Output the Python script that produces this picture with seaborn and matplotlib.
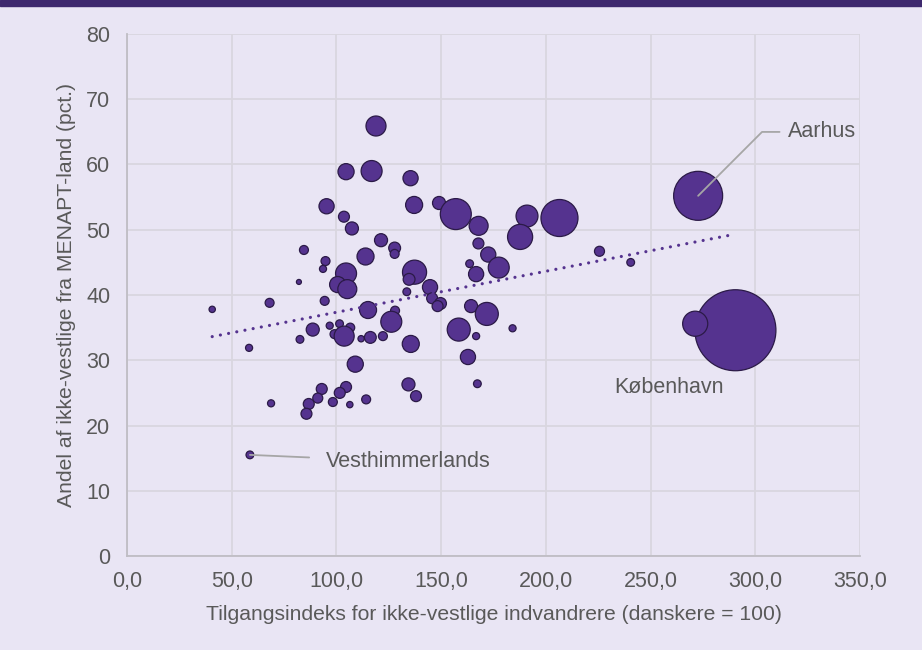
import numpy as np
import pandas as pd
import seaborn as sns
import matplotlib.pyplot as plt
from matplotlib.ticker import FuncFormatter, MultipleLocator

# Tilgangsindeks (x), andel fra MENAPT-land i pct. (y), boblestoerrelse (antal, 1000 pers.)
tilgang = [118.9, 104.6, 116.8, 135.4, 95.3, 103.6, 107.4, 137.1, 149.0, 157.0,
           167.9, 167.8, 172.5, 177.5, 191.0, 187.7, 206.5, 225.6, 240.5, 272.7,
           290.5, 271.3, 184.1, 84.5, 121.3, 127.8, 127.8, 94.8, 93.6, 113.9,
           104.6, 100.6, 105.2, 137.3, 134.7, 163.6, 166.7, 82.1, 144.7, 145.7,
           149.7, 148.3, 133.6, 40.7, 68.1, 94.4, 115.1, 128.0, 126.2, 164.3,
           171.8, 88.7, 96.8, 101.5, 106.6, 99.1, 103.7, 82.6, 111.8, 116.2,
           122.2, 158.4, 166.7, 135.5, 58.3, 109.0, 162.8, 68.8, 93.0, 91.1,
           86.8, 85.7, 98.3, 104.6, 101.6, 106.4, 114.2, 134.4, 138.0, 167.3,
           58.7]
andel = [65.9, 58.9, 59.0, 57.9, 53.6, 52.0, 50.2, 53.8, 54.1, 52.4,
         50.6, 47.9, 46.2, 44.2, 52.1, 48.9, 51.8, 46.7, 45.0, 55.2,
         34.6, 35.6, 34.9, 46.9, 48.4, 47.2, 46.3, 45.2, 44.0, 45.9,
         43.3, 41.6, 40.9, 43.5, 42.4, 44.8, 43.2, 42.0, 41.2, 39.5,
         38.7, 38.3, 40.5, 37.8, 38.8, 39.1, 37.7, 37.6, 35.9, 38.3,
         37.1, 34.7, 35.3, 35.6, 35.0, 34.0, 33.7, 33.2, 33.3, 33.5,
         33.7, 34.7, 33.7, 32.5, 31.9, 29.4, 30.5, 23.4, 25.6, 24.2,
         23.3, 21.8, 23.6, 25.9, 25.0, 23.2, 24.0, 26.3, 24.5, 26.4,
         15.5]
antal = [4.0, 2.6, 4.4, 2.3, 2.3, 1.2, 1.7, 2.9, 1.7, 9.6,
         3.6, 1.2, 2.3, 4.4, 4.8, 6.3, 13.7, 1.0, 0.6, 24.0,
         65.6, 6.3, 0.5, 0.8, 1.7, 1.4, 0.8, 0.8, 0.5, 2.9,
         4.4, 2.6, 3.6, 5.8, 1.4, 0.6, 2.3, 0.25, 2.3, 1.2,
         1.4, 1.2, 0.6, 0.4, 0.8, 0.8, 2.9, 0.8, 4.4, 1.7,
         5.3, 1.7, 0.5, 0.6, 0.8, 0.8, 4.0, 0.6, 0.4, 1.4,
         0.8, 5.3, 0.5, 2.9, 0.5, 2.6, 2.3, 0.5, 1.2, 1.0,
         1.2, 1.2, 0.8, 1.2, 1.2, 0.4, 0.8, 1.7, 1.2, 0.6,
         0.6]

kommune_navn = ["Aarhus", "København", "Vesthimmerlands"]
kommune_idx = [19, 20, 80]

df = pd.DataFrame({"tilgang": tilgang, "andel": andel, "antal": antal})

bg = "#E9E5F4"
purple = "#55338F"
edge = "#2B1A47"
txt = "#595959"
fs = 15.2

sns.set_theme(style="whitegrid")
plt.rcParams["font.family"] = ["Liberation Sans", "DejaVu Sans"]

fig = plt.figure(figsize=(9.22, 6.5), dpi=100, facecolor=bg)
ax = fig.add_axes([0.1377, 0.1446, 0.7951, 0.8031])
ax.set_facecolor(bg)

# Top banner
fig.patches.append(plt.Rectangle((0, 0.991), 1, 0.009, transform=fig.transFigure,
                                 color="#3E286E", zorder=0))

sns.scatterplot(data=df, x="tilgang", y="andel", size="antal",
                sizes=(0, 5184), size_norm=(0, 100), legend=False,
                color=purple, edgecolor=edge, linewidth=0.9, alpha=1,
                ax=ax, zorder=3)

# Lineaer trendlinje
k, m = np.polyfit(df["tilgang"], df["andel"], 1)
xs = np.array([df["tilgang"].min(), df["tilgang"].max()])
ax.plot(xs, k * xs + m, color=purple, lw=2.3, linestyle=(0, (0.01, 2.6)),
        dash_capstyle="round", zorder=4)

ax.set_xlim(0, 350)
ax.set_ylim(0, 80)
ax.xaxis.set_major_locator(MultipleLocator(50))
ax.yaxis.set_major_locator(MultipleLocator(10))
ax.xaxis.set_major_formatter(FuncFormatter(lambda v, p: f"{v:.1f}".replace(".", ",")))
ax.yaxis.set_major_formatter(FuncFormatter(lambda v, p: f"{v:.0f}"))
ax.grid(True, color="#D9D6DF", linewidth=1.3)
for s in ["top", "right"]:
    ax.spines[s].set_visible(False)
for s in ["left", "bottom"]:
    ax.spines[s].set_color("#BFBDC4")
    ax.spines[s].set_linewidth(1.3)
ax.tick_params(axis="both", length=0, labelsize=fs + 0.3, labelcolor=txt)
ax.tick_params(axis="x", pad=10.5)
ax.tick_params(axis="y", pad=12)

ax.set_xlabel("Tilgangsindeks for ikke-vestlige indvandrere (danskere = 100)",
              fontsize=fs, color=txt, labelpad=9.5)
ax.set_ylabel("Andel af ikke-vestlige fra MENAPT-land (pct.)",
              fontsize=fs, color=txt, labelpad=7)

# Annoteringer
line_c = "#A6A6A6"
offsets = {"Aarhus": (65, 46), "København": (-48, -41), "Vesthimmerlands": (55, -5)}
for navn, i in zip(kommune_navn, kommune_idx):
    xy = (tilgang[i], andel[i])
    if navn == "Aarhus":
        ax.annotate(navn, xy=xy, xytext=offsets[navn], textcoords="offset points",
                    ha="left", va="center", fontsize=fs + 0.3, color=txt,
                    arrowprops=dict(arrowstyle="-", color=line_c, lw=1.3,
                                    shrinkA=4, shrinkB=0,
                                    connectionstyle="angle,angleA=0,angleB=45,rad=0"),
                    zorder=5)
    elif navn == "Vesthimmerlands":
        ax.annotate(navn, xy=xy, xytext=offsets[navn], textcoords="offset points",
                    ha="left", va="center", fontsize=fs + 0.3, color=txt,
                    arrowprops=dict(arrowstyle="-", color=line_c, lw=1.3,
                                    shrinkA=10, shrinkB=0),
                    zorder=5)
    else:
        ax.annotate(navn, xy=xy, xytext=offsets[navn], textcoords="offset points",
                    ha="center", va="center", fontsize=fs + 0.3, color=txt, zorder=5)

fig.savefig("out.png", dpi=100, facecolor=bg)
